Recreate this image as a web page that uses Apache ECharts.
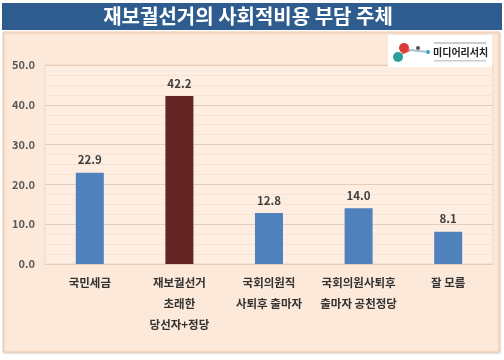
<!DOCTYPE html>
<html><head><meta charset="utf-8">
<script src="https://cdn.jsdelivr.net/npm/echarts@6/dist/echarts.min.js"></script>
<style>html,body{margin:0;padding:0;background:#fff;}#c{width:504px;height:360px;}</style>
</head><body><div id="c"></div>
<script>
var titleText = '재보궐선거의 사회적비용 부담 주체';
var categories = ['국민세금', '재보궐선거\n초래한\n당선자+정당', '국회의원직\n사퇴후 출마자', '국회의원사퇴후\n출마자 공천정당', '잘 모름'];
var values = [22.9, 42.2, 12.8, 14.0, 8.1];
var barColors = ['#4F81BD', '#632523', '#4F81BD', '#4F81BD', '#4F81BD'];
var yTicks = [0, 10, 20, 30, 40, 50];

var chart = echarts.init(document.getElementById('c'), null, {renderer: 'canvas'});
var font = '"Noto Sans CJK KR", "Noto Sans", sans-serif';
chart.setOption({
  backgroundColor: '#fff',
  animation: false,
  textStyle: {fontFamily: font},
  graphic: [
    {type: 'rect', shape: {x: 2, y: 3, width: 500, height: 27}, style: {fill: '#2E5C8E'}, z: 0},
    {type: 'text', x: 248, y: 16.5, style: {text: titleText, fill: '#fff', font: 'bold 20px ' + font, textAlign: 'center', textVerticalAlign: 'middle'}, z: 5},
    {type: 'rect', shape: {x: 3, y: 32, width: 496, height: 320}, style: {fill: '#FDE9D9', stroke: '#F5C9A6', lineWidth: 1, shadowColor: 'rgba(0,0,0,0.15)', shadowBlur: 2, shadowOffsetX: 1, shadowOffsetY: 1}, z: -10},
    {type: 'rect', shape: {x: 45, y: 65, width: 448, height: 199}, style: {fill: '#FEEEE2', stroke: '#EFD6C4', lineWidth: 1}, z: -9},
    {type: 'rect', shape: {x: 388, y: 35, width: 104, height: 32}, style: {fill: '#fff'}, z: 3},
    {type: 'line', shape: {x1: 399, y1: 55, x2: 410, y2: 50}, style: {stroke: '#E07A5F', lineWidth: 2}, z: 4},
    {type: 'line', shape: {x1: 410, y1: 50, x2: 428, y2: 52}, style: {stroke: '#A9C5D0', lineWidth: 2}, z: 4},
    {type: 'circle', shape: {cx: 398, cy: 57, r: 5}, style: {fill: '#2B9E9C'}, z: 4},
    {type: 'circle', shape: {cx: 404, cy: 48, r: 5}, style: {fill: '#D93B3B'}, z: 4},
    {type: 'circle', shape: {cx: 418, cy: 48, r: 2}, style: {fill: '#555'}, z: 4},
    {type: 'circle', shape: {cx: 428, cy: 52, r: 2}, style: {fill: '#3AA6C9'}, z: 4},
    {type: 'text', x: 433, y: 52, style: {text: '미디어리서치', fill: '#222', font: 'bold 10px ' + font, textVerticalAlign: 'middle'}, z: 4},
    {type: 'rect', shape: {x: 434, y: 42, width: 52, height: 2}, style: {fill: '#ccc'}, z: 4},
    {type: 'rect', shape: {x: 434, y: 60, width: 52, height: 1.5}, style: {fill: '#ccc'}, z: 4}
  ],
  grid: {left: 45, right: 11, top: 65, bottom: 96, containLabel: false},
  xAxis: {
    type: 'category',
    data: categories,
    axisLine: {show: false},
    axisTick: {show: false},
    axisLabel: {interval: 0, color: '#333', fontWeight: 'bold', fontSize: 11.5, lineHeight: 21, margin: 8, fontFamily: font}
  },
  yAxis: {
    type: 'value',
    min: 0, max: 50, interval: 10,
    axisLine: {show: false},
    axisTick: {show: false},
    axisLabel: {formatter: function (v) { return v.toFixed(1); }, color: '#595959', fontWeight: 'bold', fontSize: 11, margin: 10, fontFamily: font},
    splitLine: {lineStyle: {color: '#E4CDBB', width: 1}},
    minorTick: {show: false, splitNumber: 4},
    minorSplitLine: {show: true, lineStyle: {color: '#F7E2D3', width: 1}}
  },
  series: [{
    type: 'bar',
    data: values.map(function (v, i) { return {value: v, itemStyle: {color: barColors[i]}}; }),
    barWidth: 28,
    label: {show: true, position: 'top', distance: 7, color: '#404040', fontWeight: 'bold', fontSize: 11.5, fontFamily: font, formatter: function (p) { return p.value.toFixed(1); }}
  }]
});
</script></body></html>
